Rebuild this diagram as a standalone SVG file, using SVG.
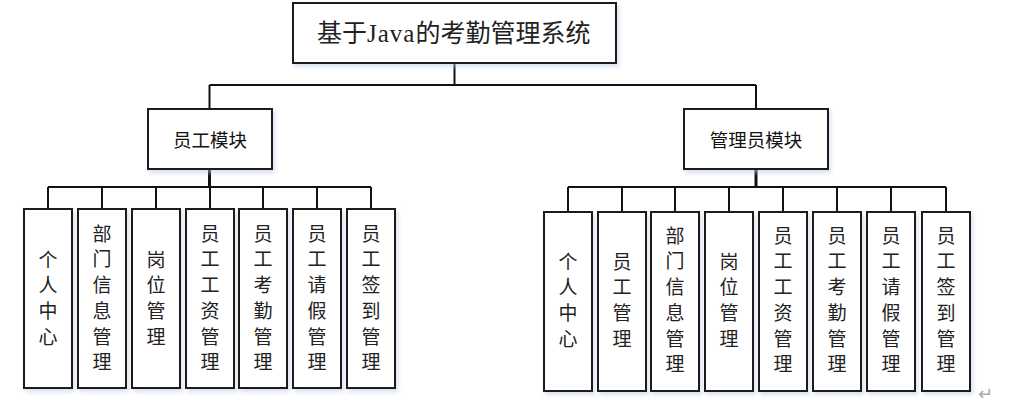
<svg xmlns="http://www.w3.org/2000/svg" width="1014" height="404" viewBox="0 0 1014 404">
<defs>
<filter id="sh" x="-20%" y="-20%" width="150%" height="150%">
<feDropShadow dx="2" dy="3" stdDeviation="2" flood-color="#b8c8e0" flood-opacity="0.55"/>
</filter>
<style>
.box{fill:#fff;stroke:#1a1a1a;stroke-width:2;filter:url(#sh)}
.ln{stroke:#111;stroke-width:2;fill:none}
.tk{stroke:#111;stroke-width:3;fill:none}
.ttl{font-family:"Liberation Serif","Noto Sans CJK SC",serif;font-size:25px;fill:#222}
.mod{font-family:"Noto Sans CJK SC",sans-serif;font-size:18.5px;fill:#111;text-anchor:middle}
.leaf{font-family:"Liberation Serif","Noto Sans CJK SC",serif;font-size:19px;fill:#222;text-anchor:middle}
.ret{font-family:"DejaVu Sans",sans-serif;font-size:18px;fill:#aaa}
</style>
</defs>
<rect width="1014" height="404" fill="#fff"/>
<g id="connectors">
<line class="ln" x1="454.5" y1="63" x2="454.5" y2="85"/>
<line class="ln" x1="209.5" y1="85" x2="756" y2="85"/>
<line class="ln" x1="209.5" y1="85" x2="209.5" y2="109"/>
<line class="ln" x1="756" y1="85" x2="756" y2="109"/>
<line class="tk" x1="209.5" y1="169" x2="209.5" y2="187"/>
<line class="ln" x1="48" y1="187" x2="371" y2="187"/>
<path class="ln" d="M48 187V209M102 187V209M156 187V209M210 187V209M263 187V209M317 187V209M371 187V209"/>
<line class="tk" x1="756" y1="169" x2="756" y2="187"/>
<line class="ln" x1="568" y1="187" x2="946" y2="187"/>
<path class="ln" d="M568 187V212M622 187V212M675 187V212M729 187V212M783 187V212M837 187V212M891 187V212M946 187V212"/>
</g>
<g id="root">
<rect class="box" x="293" y="3" width="323" height="60"/>
<text class="ttl" x="317" y="42">基于<tspan letter-spacing="1">Java</tspan>的考勤管理系统</text>
</g>
<g id="emp">
<rect class="box" x="148" y="109" width="124" height="60"/>
<text class="mod" x="210" y="147">员工模块</text>
</g>
<g id="admin">
<rect class="box" x="684" y="109" width="144" height="60"/>
<text class="mod" x="756" y="147">管理员模块</text>
</g>
<g id="e1"><rect class="box" x="24" y="209" width="48" height="179"/>
<text class="leaf" y="266.5"><tspan x="48">个</tspan><tspan x="48" dy="25.7">人</tspan><tspan x="48" dy="25.7">中</tspan><tspan x="48" dy="25.7">心</tspan></text></g>
<g id="e2"><rect class="box" x="78" y="209" width="48" height="179"/>
<text class="leaf" y="240.7"><tspan x="102">部</tspan><tspan x="102" dy="25.7">门</tspan><tspan x="102" dy="25.7">信</tspan><tspan x="102" dy="25.7">息</tspan><tspan x="102" dy="25.7">管</tspan><tspan x="102" dy="25.7">理</tspan></text></g>
<g id="e3"><rect class="box" x="132" y="209" width="48" height="179"/>
<text class="leaf" y="266.5"><tspan x="156">岗</tspan><tspan x="156" dy="25.7">位</tspan><tspan x="156" dy="25.7">管</tspan><tspan x="156" dy="25.7">理</tspan></text></g>
<g id="e4"><rect class="box" x="186" y="209" width="48" height="179"/>
<text class="leaf" y="240.7"><tspan x="210">员</tspan><tspan x="210" dy="25.7">工</tspan><tspan x="210" dy="25.7">工</tspan><tspan x="210" dy="25.7">资</tspan><tspan x="210" dy="25.7">管</tspan><tspan x="210" dy="25.7">理</tspan></text></g>
<g id="e5"><rect class="box" x="239" y="209" width="48" height="179"/>
<text class="leaf" y="240.7"><tspan x="263">员</tspan><tspan x="263" dy="25.7">工</tspan><tspan x="263" dy="25.7">考</tspan><tspan x="263" dy="25.7">勤</tspan><tspan x="263" dy="25.7">管</tspan><tspan x="263" dy="25.7">理</tspan></text></g>
<g id="e6"><rect class="box" x="293" y="209" width="48" height="179"/>
<text class="leaf" y="240.7"><tspan x="317">员</tspan><tspan x="317" dy="25.7">工</tspan><tspan x="317" dy="25.7">请</tspan><tspan x="317" dy="25.7">假</tspan><tspan x="317" dy="25.7">管</tspan><tspan x="317" dy="25.7">理</tspan></text></g>
<g id="e7"><rect class="box" x="347" y="209" width="48" height="179"/>
<text class="leaf" y="240.7"><tspan x="371">员</tspan><tspan x="371" dy="25.7">工</tspan><tspan x="371" dy="25.7">签</tspan><tspan x="371" dy="25.7">到</tspan><tspan x="371" dy="25.7">管</tspan><tspan x="371" dy="25.7">理</tspan></text></g>
<g id="a1"><rect class="box" x="544" y="212" width="48" height="179"/>
<text class="leaf" y="268.5"><tspan x="568">个</tspan><tspan x="568" dy="25.7">人</tspan><tspan x="568" dy="25.7">中</tspan><tspan x="568" dy="25.7">心</tspan></text></g>
<g id="a2"><rect class="box" x="598" y="212" width="48" height="179"/>
<text class="leaf" y="268.5"><tspan x="622">员</tspan><tspan x="622" dy="25.7">工</tspan><tspan x="622" dy="25.7">管</tspan><tspan x="622" dy="25.7">理</tspan></text></g>
<g id="a3"><rect class="box" x="651" y="212" width="48" height="179"/>
<text class="leaf" y="242.7"><tspan x="675">部</tspan><tspan x="675" dy="25.7">门</tspan><tspan x="675" dy="25.7">信</tspan><tspan x="675" dy="25.7">息</tspan><tspan x="675" dy="25.7">管</tspan><tspan x="675" dy="25.7">理</tspan></text></g>
<g id="a4"><rect class="box" x="705" y="212" width="48" height="179"/>
<text class="leaf" y="268.5"><tspan x="729">岗</tspan><tspan x="729" dy="25.7">位</tspan><tspan x="729" dy="25.7">管</tspan><tspan x="729" dy="25.7">理</tspan></text></g>
<g id="a5"><rect class="box" x="759" y="212" width="48" height="179"/>
<text class="leaf" y="242.7"><tspan x="783">员</tspan><tspan x="783" dy="25.7">工</tspan><tspan x="783" dy="25.7">工</tspan><tspan x="783" dy="25.7">资</tspan><tspan x="783" dy="25.7">管</tspan><tspan x="783" dy="25.7">理</tspan></text></g>
<g id="a6"><rect class="box" x="813" y="212" width="48" height="179"/>
<text class="leaf" y="242.7"><tspan x="837">员</tspan><tspan x="837" dy="25.7">工</tspan><tspan x="837" dy="25.7">考</tspan><tspan x="837" dy="25.7">勤</tspan><tspan x="837" dy="25.7">管</tspan><tspan x="837" dy="25.7">理</tspan></text></g>
<g id="a7"><rect class="box" x="867" y="212" width="48" height="179"/>
<text class="leaf" y="242.7"><tspan x="891">员</tspan><tspan x="891" dy="25.7">工</tspan><tspan x="891" dy="25.7">请</tspan><tspan x="891" dy="25.7">假</tspan><tspan x="891" dy="25.7">管</tspan><tspan x="891" dy="25.7">理</tspan></text></g>
<g id="a8"><rect class="box" x="922" y="212" width="48" height="179"/>
<text class="leaf" y="242.7"><tspan x="946">员</tspan><tspan x="946" dy="25.7">工</tspan><tspan x="946" dy="25.7">签</tspan><tspan x="946" dy="25.7">到</tspan><tspan x="946" dy="25.7">管</tspan><tspan x="946" dy="25.7">理</tspan></text></g>
<text class="ret" x="978" y="400">↵</text>
</svg>
